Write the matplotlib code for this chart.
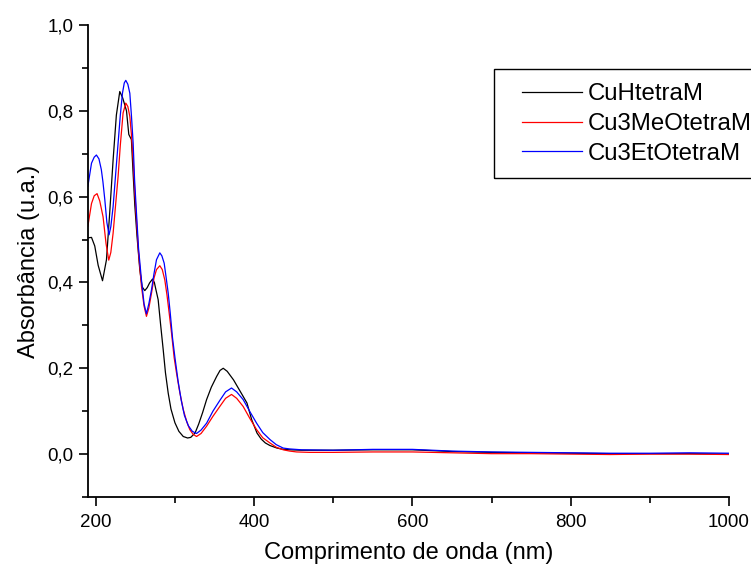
import matplotlib
matplotlib.use('Agg')
import matplotlib.pyplot as plt
from matplotlib.ticker import MultipleLocator, FuncFormatter
from matplotlib.patches import Rectangle

plt.rcParams['font.family'] = ['Liberation Sans', 'DejaVu Sans']

# UV-Vis spectra (wavelength nm, absorbance)
x_h = [190, 194.6, 198.7, 203, 208.5, 213.5, 217.5, 221.9, 226, 230.3, 234,
       238.8, 241.7, 245, 247, 249.3, 252, 255.6, 258.5, 261.9, 265, 268,
       271.7, 274, 276, 278.8, 282, 285.2, 288, 291.5, 295, 300, 305, 310.5,
       316, 320, 325.4, 330, 335, 340, 346, 352.7, 357, 361, 366, 370, 374,
       380, 386, 391, 397, 403.7, 409, 414.2, 420, 429, 437, 445, 460, 500,
       550, 600, 650, 700, 750, 800, 850, 900, 950, 1000]
y_h = [0.504, 0.505, 0.485, 0.44, 0.404, 0.453, 0.56, 0.686, 0.79, 0.845, 0.83,
       0.80, 0.745, 0.733, 0.66, 0.58, 0.51, 0.43, 0.39, 0.381, 0.388, 0.399,
       0.408, 0.40, 0.383, 0.36, 0.30, 0.243, 0.19, 0.142, 0.105, 0.073, 0.053,
       0.041, 0.0375, 0.039, 0.049, 0.07, 0.097, 0.127, 0.156, 0.181, 0.195,
       0.2, 0.193, 0.183, 0.173, 0.154, 0.135, 0.119, 0.08, 0.049, 0.035,
       0.026, 0.02, 0.014, 0.011, 0.01, 0.009, 0.009, 0.010, 0.010, 0.006,
       0.004, 0.003, 0.002, 0.001, 0.001, 0.001, 0.0]

x_meo = [190, 194.6, 198, 201.6, 205, 209.2, 213, 216.4, 219, 221.9, 225,
         228.2, 231, 234.5, 237.9, 240.5, 243, 245, 247.2, 249, 251.4, 254,
         257.7, 261, 264, 267, 270.4, 273.5, 276.7, 280.9, 284, 287.2, 290,
         292.7, 295.7, 299, 302, 306, 310.5, 315, 318.8, 323, 327.3, 333, 340,
         348, 356.7, 364, 371.5, 378, 386.2, 395, 403.2, 411, 420, 428, 436.8,
         445, 453.7, 470, 500, 550, 600, 650, 700, 750, 800, 850, 900, 950,
         1000]
y_meo = [0.531, 0.584, 0.602, 0.607, 0.59, 0.553, 0.49, 0.452, 0.47, 0.515,
         0.58, 0.647, 0.72, 0.795, 0.818, 0.81, 0.787, 0.745, 0.686, 0.62,
         0.546, 0.47, 0.391, 0.345, 0.321, 0.34, 0.375, 0.41, 0.43, 0.439,
         0.43, 0.406, 0.37, 0.329, 0.282, 0.225, 0.189, 0.145, 0.104, 0.075,
         0.057, 0.046, 0.041, 0.048, 0.065, 0.088, 0.111, 0.13, 0.139, 0.13,
         0.111, 0.082, 0.057, 0.038, 0.026, 0.016, 0.01, 0.007, 0.005, 0.004,
         0.004, 0.005, 0.005, 0.003, 0.001, 0.001, 0.0, -0.001, 0.0, 0.0,
         -0.001]

x_eto = [190, 194.6, 198, 200.8, 204, 207, 209, 211.4, 214, 216.8, 219, 221.9,
         225, 228.2, 231, 233.7, 236, 237.9, 240.5, 243, 245, 247.2, 249,
         251.4, 254, 257.7, 261, 264, 267, 270.4, 273.5, 276.7, 280.9, 283.5,
         286.4, 289, 291.5, 294, 297, 300, 304, 308, 312, 317, 322, 327.3, 333,
         340, 348, 356.7, 364, 371.5, 378, 386.2, 395, 403.2, 411, 420, 428,
         436.8, 445, 460, 500, 550, 600, 650, 700, 750, 800, 850, 900, 950,
         1000]
y_eto = [0.624, 0.678, 0.692, 0.697, 0.688, 0.663, 0.635, 0.593, 0.54, 0.511,
         0.53, 0.577, 0.65, 0.725, 0.79, 0.841, 0.865, 0.871, 0.862, 0.841,
         0.79, 0.725, 0.64, 0.562, 0.48, 0.406, 0.35, 0.327, 0.35, 0.383, 0.42,
         0.453, 0.469, 0.462, 0.445, 0.41, 0.375, 0.33, 0.27, 0.225, 0.17,
         0.125, 0.09, 0.066, 0.053, 0.048, 0.056, 0.072, 0.1, 0.125, 0.145,
         0.154, 0.145, 0.127, 0.098, 0.072, 0.05, 0.034, 0.022, 0.014, 0.012,
         0.010, 0.009, 0.011, 0.011, 0.007, 0.005, 0.004, 0.003, 0.002, 0.002,
         0.003, 0.002]

labels = ['CuHtetraM', 'Cu3MeOtetraM', 'Cu3EtOtetraM']
colors = ['black', 'red', 'blue']


def comma(v, pos):
    return ('%.1f' % v).replace('.', ',')


def make_plot():
    fig = plt.figure(figsize=(7.51, 5.71), dpi=100)
    ax = fig.add_axes([0.117, 0.1296, 0.8537, 0.8266])

    series = [(x_h, y_h), (x_meo, y_meo), (x_eto, y_eto)]
    for (xs, ys), lab, c in zip(series, labels, colors):
        ax.plot(xs, ys, color=c, lw=0.9, label=lab)

    ax.set_xlim(190, 1000)
    ax.set_ylim(-0.1, 1.0)

    ax.xaxis.set_major_locator(MultipleLocator(200))
    ax.xaxis.set_minor_locator(MultipleLocator(100))
    ax.yaxis.set_major_locator(MultipleLocator(0.2))
    ax.yaxis.set_minor_locator(MultipleLocator(0.1))
    ax.yaxis.set_major_formatter(FuncFormatter(comma))

    for s in ['top', 'right']:
        ax.spines[s].set_visible(False)
    for s in ['left', 'bottom']:
        ax.spines[s].set_linewidth(1.3)

    ax.tick_params(which='major', direction='out', length=6.5, width=1.2,
                   labelsize=13.5, pad=4)
    ax.tick_params(axis='x', which='major', pad=6)
    ax.tick_params(which='minor', direction='out', length=4, width=1.2)

    ax.set_xlabel('Comprimento de onda (nm)', fontsize=17, labelpad=8)
    ax.set_ylabel('Absorbância (u.a.)', fontsize=17, labelpad=5)

    # legend frame runs past the right edge of the figure
    fig.patches.append(Rectangle((494 / 751, 1 - 178 / 571), 0.5, 109 / 571,
                                 transform=fig.transFigure, fill=False,
                                 edgecolor='black', lw=1.0))
    fig.legend(loc='upper left', bbox_to_anchor=(522 / 751, 1 - 83 / 571),
               frameon=False, fontsize=17.3, handlelength=2.5,
               handletextpad=0.25, labelspacing=0.33, borderpad=0,
               borderaxespad=0)

    fig.savefig('out.png', dpi=100)


if __name__ == '__main__':
    make_plot()
